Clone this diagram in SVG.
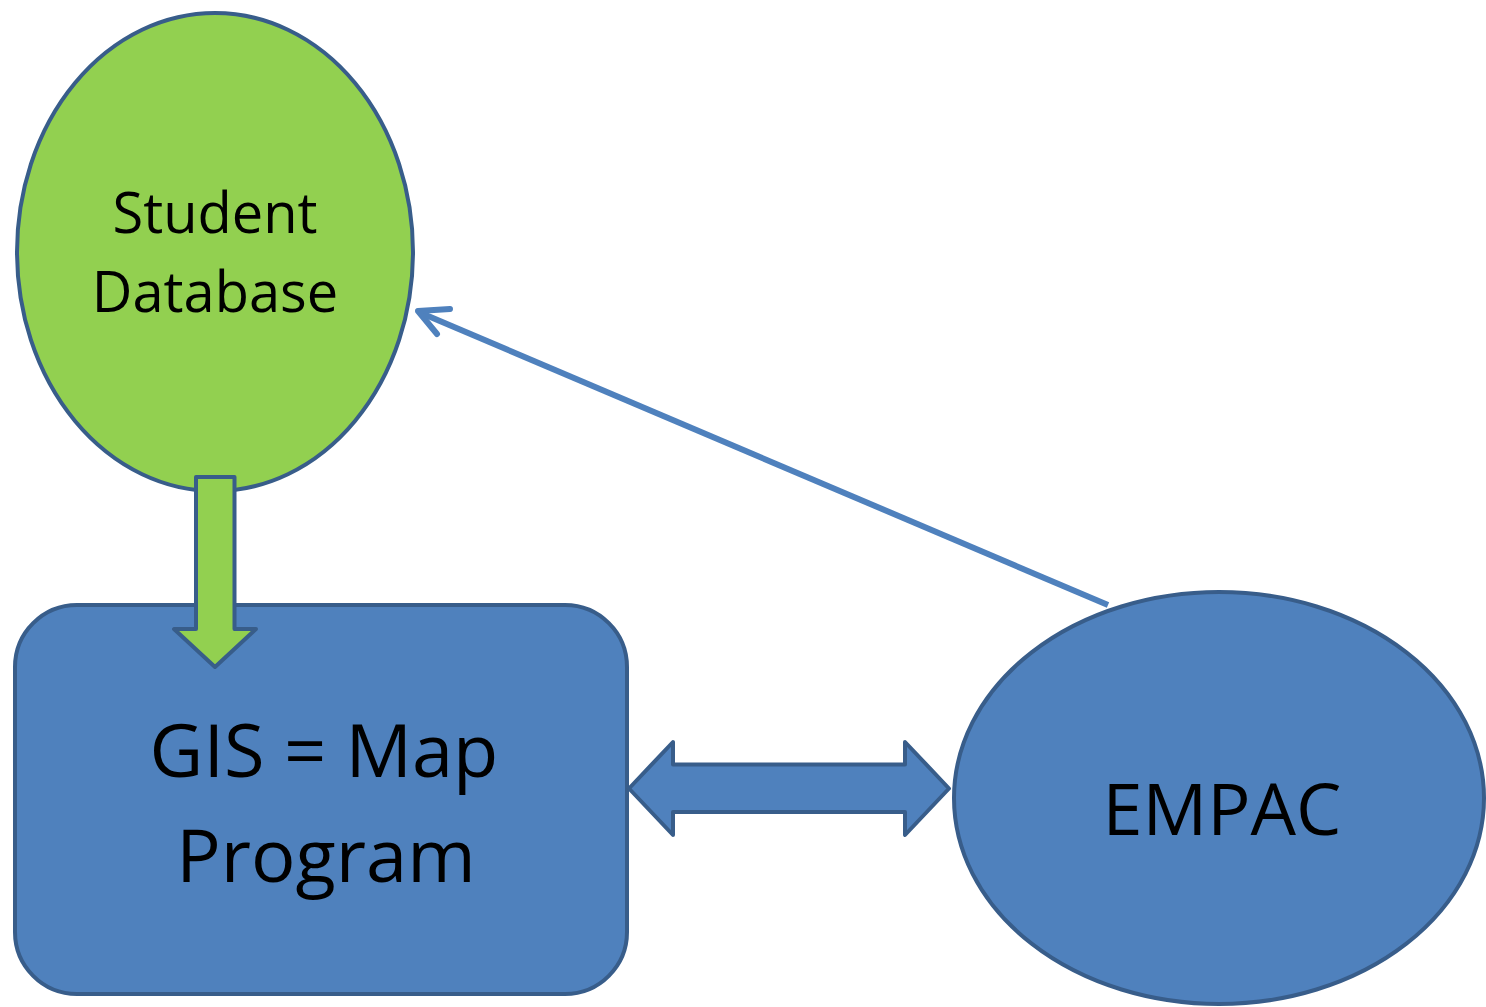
<svg xmlns="http://www.w3.org/2000/svg" width="1486" height="1007" viewBox="0 0 1486 1007">
<style>
.shape{stroke:#385D8A;stroke-width:4;stroke-linejoin:round}
.green{fill:#92D050}
.blue{fill:#4F81BD}
.lbl{font-family:"Open Sans","Liberation Sans",sans-serif;fill:#000;text-anchor:middle}
.conn{fill:none;stroke:#4F81BD;stroke-width:6}
</style>
<rect width="1486" height="1007" fill="#fff"/>
<g id="student-database">
<ellipse class="shape green" cx="215" cy="252" rx="198" ry="239"/>
<text class="lbl" x="215" y="233" font-size="56">Student</text>
<text class="lbl" x="215" y="312" font-size="56">Database</text>
</g>
<g id="gis">
<rect class="shape blue" x="15" y="605" width="612" height="389" rx="62" ry="62"/>
<text class="lbl" x="324" y="777" font-size="74">GIS = Map</text>
<text class="lbl" x="326" y="882" font-size="74">Program</text>
</g>
<g id="empac">
<ellipse class="shape blue" cx="1219" cy="798" rx="265" ry="206"/>
<text class="lbl" x="1222" y="835" font-size="72">EMPAC</text>
</g>
<g id="connectors">
<path class="shape green" d="M196,477 L234.5,477 L234.5,629 L256,629 L215,667 L174,629 L196,629 Z"/>
<path class="shape blue" d="M629,788.5 L673,742 L673,764.5 L905,764.5 L905,742 L949,788.5 L905,835 L905,812 L673,812 L673,835 Z"/>
<line class="conn" x1="1108" y1="605" x2="421" y2="313"/>
<polyline class="conn" points="450,309 418,311 437,334" stroke-width="7" stroke-linecap="round" stroke-linejoin="round"/>
</g>
</svg>
